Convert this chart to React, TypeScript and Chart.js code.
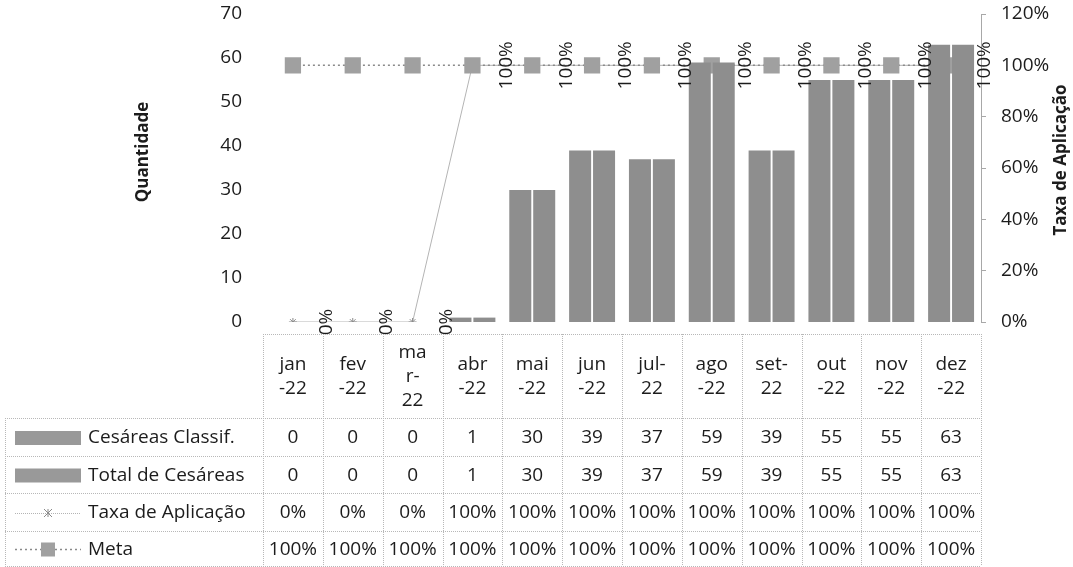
import React, { useEffect, useRef } from 'react';
import { Chart, registerables } from 'chart.js';

Chart.register(...registerables);

// ---------- data ----------
const monthLabels: string[][] = [
  ['jan', '-22'], ['fev', '-22'], ['ma', 'r-', '22'], ['abr', '-22'], ['mai', '-22'], ['jun', '-22'],
  ['jul-', '22'], ['ago', '-22'], ['set-', '22'], ['out', '-22'], ['nov', '-22'], ['dez', '-22'],
];
const cesareasClassif = [0, 0, 0, 1, 30, 39, 37, 59, 39, 55, 55, 63];
const totalCesareas = [0, 0, 0, 1, 30, 39, 37, 59, 39, 55, 55, 63];
const taxaAplicacao = [0, 0, 0, 1, 1, 1, 1, 1, 1, 1, 1, 1];
const metaValues = [1, 1, 1, 1, 1, 1, 1, 1, 1, 1, 1, 1];
const seriesNames = ['Cesáreas Classif.', 'Total de Cesáreas', 'Taxa de Aplicação', 'Meta'];
const leftAxisTitle = 'Quantidade';
const rightAxisTitle = 'Taxa de Aplicação';

// ---------- style ----------
const FONT = "'Open Sans', 'DejaVu Sans', sans-serif";
const TEXT = '#1c1c1c';
const GRID = '#b8b8b8';
const BAR = '#8e8e8e';
const META = '#a0a0a0';
const TAXA = '#b4b4b4';

const pct = (v: number) => `${Math.round(v * 100)}%`;

const W = 1073;
const H = 567;

function drawStar(ctx: CanvasRenderingContext2D, x: number, y: number, r: number, color: string) {
  ctx.save();
  ctx.strokeStyle = color;
  ctx.lineWidth = 1;
  ctx.setLineDash([]);
  ctx.beginPath();
  ctx.moveTo(x - r, y - r); ctx.lineTo(x + r, y + r);
  ctx.moveTo(x - r, y + r); ctx.lineTo(x + r, y - r);
  ctx.moveTo(x, y - r); ctx.lineTo(x, y + r);
  ctx.stroke();
  ctx.restore();
}

const tablePlugin = {
  id: 'dataTablePlugin',
  afterDatasetsDraw(chart: any) {
    const ctx: CanvasRenderingContext2D = chart.ctx;
    const meta = chart.getDatasetMeta(0);
    ctx.save();
    ctx.font = `19px ${FONT}`;
    ctx.fillStyle = TEXT;
    ctx.textAlign = 'center';
    ctx.textBaseline = 'middle';
    meta.data.forEach((pt: any, i: number) => {
      ctx.save();
      ctx.translate(pt.x + 33, pt.y);
      ctx.rotate(-Math.PI / 2);
      ctx.fillText(pct(taxaAplicacao[i]), 0, 1);
      ctx.restore();
    });
    ctx.restore();
  },
  afterDraw(chart: any) {
    const ctx: CanvasRenderingContext2D = chart.ctx;
    const xs = chart.scales.x;
    const area = chart.chartArea;
    const n = chart.data.labels.length;
    const colW = (area.right - area.left) / n;

    // axis titles
    ctx.save();
    ctx.font = `bold 17px ${FONT}`;
    ctx.fillStyle = TEXT;
    ctx.textAlign = 'center';
    ctx.textBaseline = 'middle';
    ctx.save();
    ctx.translate(143, 152);
    ctx.rotate(-Math.PI / 2);
    ctx.fillText(leftAxisTitle, 0, 0);
    ctx.restore();
    ctx.save();
    ctx.translate(1061, 160);
    ctx.rotate(-Math.PI / 2);
    ctx.fillText(rightAxisTitle, 0, 0);
    ctx.restore();
    ctx.restore();

    // table grid
    const headerTop = 334;
    const rowLines = [418, 456, 493, 531, 566];
    const tableLeft = 5;
    ctx.save();
    ctx.strokeStyle = GRID;
    ctx.lineWidth = 1;
    ctx.setLineDash([1, 1]);
    const line = (x1: number, y1: number, x2: number, y2: number) => {
      ctx.beginPath();
      ctx.moveTo(x1, y1);
      ctx.lineTo(x2, y2);
      ctx.stroke();
    };
    line(area.left, headerTop + 0.5, area.right, headerTop + 0.5);
    for (let i = 0; i <= n; i++) {
      const xx = Math.round(area.left + i * colW) + 0.5;
      line(xx, headerTop, xx, rowLines[rowLines.length - 1]);
    }
    line(tableLeft + 0.5, rowLines[0], tableLeft + 0.5, rowLines[rowLines.length - 1]);
    rowLines.forEach((y) => line(tableLeft, y + 0.5, area.right, y + 0.5));
    ctx.restore();

    // header labels
    ctx.save();
    ctx.font = `19px ${FONT}`;
    ctx.fillStyle = TEXT;
    ctx.textAlign = 'center';
    ctx.textBaseline = 'middle';
    const hc = (headerTop + rowLines[0]) / 2 + 1;
    const lh = 24;
    (chart.data.labels as string[][]).forEach((lab, i) => {
      const cx = xs.getPixelForValue(i);
      const start = hc - ((lab.length - 1) * lh) / 2;
      lab.forEach((t, k) => ctx.fillText(t, cx, start + k * lh));
    });

    // rows
    const rows = [
      { name: seriesNames[0], values: cesareasClassif.map(String), key: 'bar' },
      { name: seriesNames[1], values: totalCesareas.map(String), key: 'bar' },
      { name: seriesNames[2], values: taxaAplicacao.map(pct), key: 'taxa' },
      { name: seriesNames[3], values: metaValues.map(pct), key: 'meta' },
    ];
    rows.forEach((row, r) => {
      const cy = (rowLines[r] + rowLines[r + 1]) / 2 + 1;
      if (row.key === 'bar') {
        ctx.fillStyle = '#999999';
        ctx.fillRect(15, cy - 7, 66, 14);
      } else if (row.key === 'taxa') {
        ctx.save();
        ctx.strokeStyle = TAXA;
        ctx.lineWidth = 1;
        ctx.setLineDash([1, 1]);
        ctx.beginPath();
        ctx.moveTo(15, cy + 0.5);
        ctx.lineTo(81, cy + 0.5);
        ctx.stroke();
        ctx.restore();
        drawStar(ctx, 48, cy, 4, '#8a8a8a');
      } else {
        ctx.save();
        ctx.strokeStyle = '#8a8a8a';
        ctx.lineWidth = 1.5;
        ctx.setLineDash([2, 3]);
        ctx.beginPath();
        ctx.moveTo(15, cy);
        ctx.lineTo(81, cy);
        ctx.stroke();
        ctx.restore();
        ctx.fillStyle = META;
        ctx.fillRect(41, cy - 7, 14, 14);
      }
      ctx.fillStyle = TEXT;
      ctx.textAlign = 'left';
      ctx.fillText(row.name, 88, cy);
      ctx.textAlign = 'center';
      row.values.forEach((v, i) => ctx.fillText(v, xs.getPixelForValue(i), cy));
    });
    ctx.restore();
  },
};

export default function App() {
  const canvasRef = useRef<HTMLCanvasElement | null>(null);

  useEffect(() => {
    const canvas = canvasRef.current;
    if (!canvas) return;
    Chart.defaults.font.family = FONT;
    const chart = new Chart(canvas, {
      type: 'bar',
      data: {
        labels: monthLabels as any,
        datasets: [
          {
            type: 'line',
            label: seriesNames[2],
            data: taxaAplicacao,
            yAxisID: 'y1',
            order: 2,
            borderColor: TAXA,
            borderWidth: 1,
            pointStyle: 'star',
            pointRadius: 4,
            pointBorderColor: '#8a8a8a',
            pointBackgroundColor: '#8a8a8a',
            pointBorderWidth: 1,
            tension: 0,
          } as any,
          {
            type: 'line',
            label: seriesNames[3],
            data: metaValues,
            yAxisID: 'y1',
            order: 1,
            borderColor: '#8a8a8a',
            borderWidth: 1.5,
            borderDash: [2, 3],
            pointStyle: 'rect',
            pointRadius: 11.5,
            pointBackgroundColor: META,
            pointBorderColor: META,
            pointBorderWidth: 0,
          } as any,
          {
            type: 'bar',
            label: seriesNames[0],
            data: cesareasClassif,
            yAxisID: 'y',
            order: 0,
            backgroundColor: BAR,
            barPercentage: 0.92,
            categoryPercentage: 0.8,
          },
          {
            type: 'bar',
            label: seriesNames[1],
            data: totalCesareas,
            yAxisID: 'y',
            order: 0,
            backgroundColor: BAR,
            barPercentage: 0.92,
            categoryPercentage: 0.8,
          },
        ],
      },
      options: {
        responsive: false,
        animation: false,
        devicePixelRatio: 1,
        layout: { autoPadding: false, padding: { left: 0, right: 0, top: 14, bottom: 245 } },
        plugins: {
          legend: { display: false },
          tooltip: { enabled: false },
        },
        scales: {
          x: {
            display: false,
            offset: true,
            grid: { display: false },
          },
          y: {
            position: 'left',
            min: 0,
            max: 70,
            ticks: {
              stepSize: 10,
              padding: 21,
              color: TEXT,
              font: { size: 19, family: FONT },
            },
            grid: { display: false, drawTicks: false },
            border: { display: false },
            afterFit: (s: any) => { s.width = 263; s.paddingTop = 0; s.paddingBottom = 0; },
          },
          y1: {
            position: 'right',
            min: 0,
            max: 1.2,
            ticks: {
              stepSize: 0.2,
              padding: 15,
              color: TEXT,
              font: { size: 19, family: FONT },
              callback: (v: any) => pct(Number(v)),
            },
            grid: { display: true, drawOnChartArea: false, drawTicks: true, tickLength: 5, color: '#a8a8a8' },
            border: { display: true, color: '#a8a8a8', dash: [2, 2], width: 1 },
            afterFit: (s: any) => { s.width = W - 981; s.paddingTop = 0; s.paddingBottom = 0; },
          },
        },
      } as any,
      plugins: [tablePlugin],
    });
    return () => chart.destroy();
  }, []);

  return (
    <div style={{ position: 'absolute', left: 0, top: 0, width: W, height: H, background: '#fff' }}>
      <canvas ref={canvasRef} width={W} height={H} style={{ display: 'block', width: W, height: H }} />
    </div>
  );
}
